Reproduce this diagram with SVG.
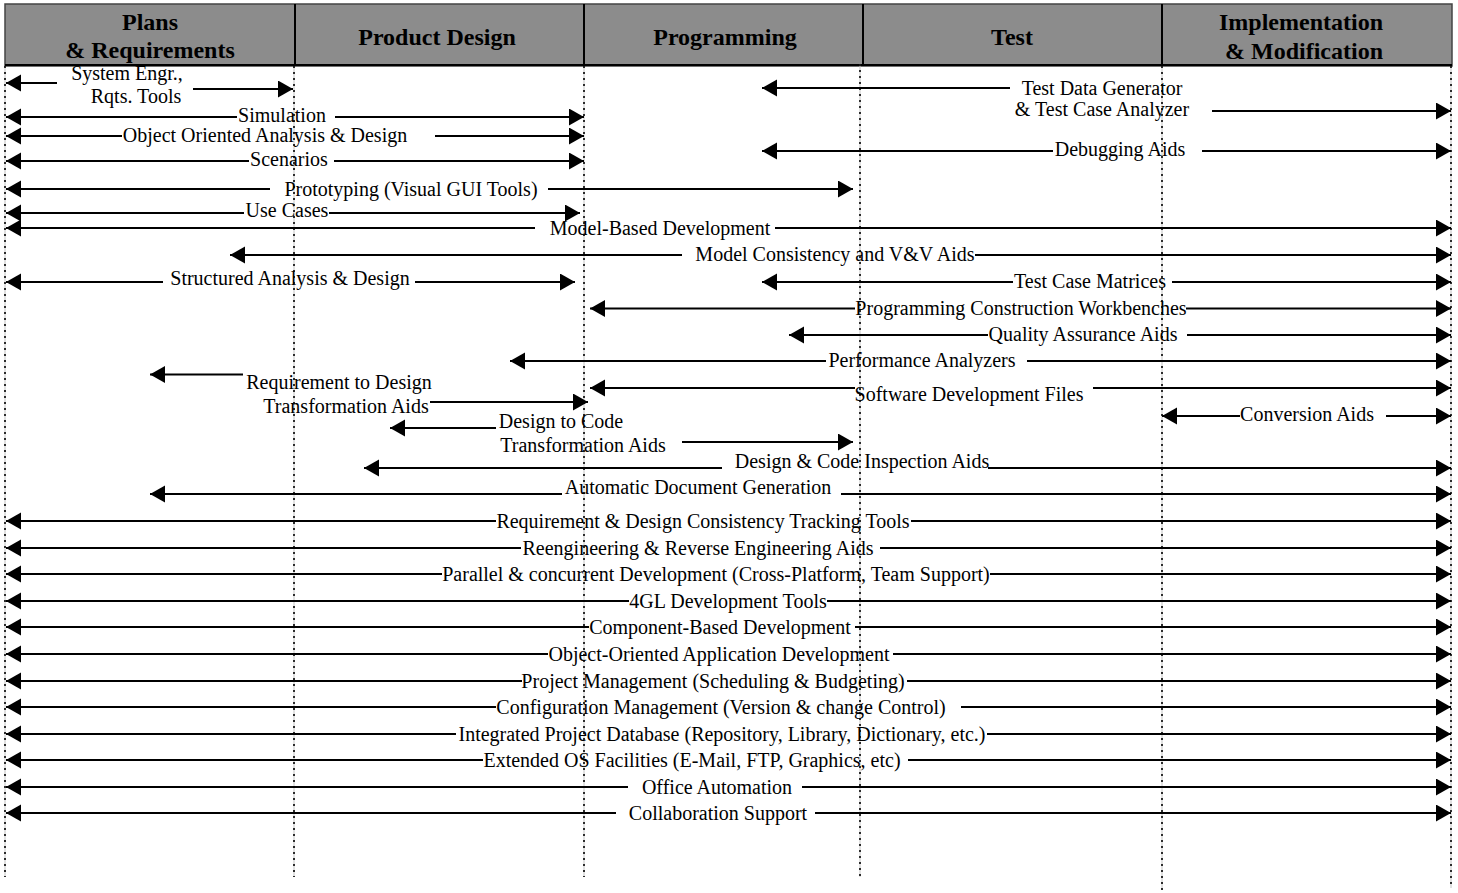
<svg xmlns="http://www.w3.org/2000/svg" width="1458" height="893" viewBox="0 0 1458 893">
<style>
.hdr{font-family:"Liberation Serif","Times New Roman",serif;font-weight:bold;font-size:24px;fill:#000;text-anchor:middle}
.lbl{font-family:"Liberation Serif","Times New Roman",serif;font-size:20px;fill:#000;text-anchor:middle}
.grid{stroke:#c4c4c4;stroke-width:1;fill:none}
.dots{stroke:#000;stroke-width:1.6;stroke-dasharray:2 4;fill:none}
.div{stroke:#000;stroke-width:2}
.l{stroke:#000;stroke-width:2;fill:none;marker-start:url(#ah)}
.r{stroke:#000;stroke-width:2;fill:none;marker-end:url(#ah)}
</style>
<defs>
<marker id="ah" markerUnits="userSpaceOnUse" markerWidth="16" markerHeight="18" refX="15" refY="8.5" orient="auto-start-reverse">
<path d="M0,0 L15,8.5 L0,17 Z" fill="#000"/>
</marker>
</defs>
<rect width="1458" height="893" fill="#fff"/>
<g id="header">
<rect x="5" y="4" width="1447" height="62" fill="#8c8c8c" stroke="#444" stroke-width="1.5"/>
<line class="div" x1="5" y1="65" x2="1452" y2="65"/>
<line class="div" x1="295" y1="4" x2="295" y2="66"/>
<line class="div" x1="584" y1="4" x2="584" y2="66"/>
<line class="div" x1="863" y1="4" x2="863" y2="66"/>
<line class="div" x1="1162" y1="4" x2="1162" y2="66"/>
<text class="hdr" x="150" y="30">Plans</text>
<text class="hdr" x="150" y="58">&amp; Requirements</text>
<text class="hdr" x="437" y="45">Product Design</text>
<text class="hdr" x="725" y="45">Programming</text>
<text class="hdr" x="1012" y="45">Test</text>
<text class="hdr" x="1301" y="30">Implementation</text>
<text class="hdr" x="1304" y="59">&amp; Modification</text>
</g>
<g id="gridlines">
<line class="grid" x1="5" y1="66" x2="5" y2="877"/>
<line class="dots" x1="5" y1="66" x2="5" y2="877"/>
<line class="grid" x1="294" y1="66" x2="294" y2="877"/>
<line class="dots" x1="294" y1="66" x2="294" y2="877"/>
<line class="grid" x1="584" y1="66" x2="584" y2="877"/>
<line class="dots" x1="584" y1="66" x2="584" y2="877"/>
<line class="grid" x1="860" y1="64" x2="860" y2="877"/>
<line class="dots" x1="860" y1="64" x2="860" y2="877"/>
<line class="grid" x1="1162" y1="66" x2="1162" y2="890"/>
<line class="dots" x1="1162" y1="66" x2="1162" y2="890"/>
<line class="grid" x1="1451" y1="66" x2="1451" y2="888"/>
<line class="dots" x1="1451" y1="66" x2="1451" y2="888"/>
</g>
<g id="connectors">
<line class="l" x1="6" y1="83" x2="57" y2="83"/><line class="r" x1="193" y1="89" x2="293" y2="89"/>
<line class="l" x1="762" y1="88" x2="1010" y2="88"/><line class="r" x1="1212" y1="111" x2="1451" y2="111"/>
<line class="l" x1="6" y1="117" x2="237" y2="117"/><line class="r" x1="335" y1="117" x2="584" y2="117"/>
<line class="l" x1="6" y1="136" x2="122" y2="136"/><line class="r" x1="435" y1="136" x2="584" y2="136"/>
<line class="l" x1="762" y1="151" x2="1053" y2="151"/><line class="r" x1="1202" y1="151" x2="1451" y2="151"/>
<line class="l" x1="6" y1="161" x2="249" y2="161"/><line class="r" x1="334" y1="161" x2="584" y2="161"/>
<line class="l" x1="6" y1="189" x2="270" y2="189"/><line class="r" x1="548" y1="189" x2="853" y2="189"/>
<line class="l" x1="6" y1="213" x2="244" y2="213"/><line class="r" x1="329" y1="213" x2="580" y2="213"/>
<line class="l" x1="6" y1="228" x2="535" y2="228"/><line class="r" x1="775" y1="228" x2="1451" y2="228"/>
<line class="l" x1="230" y1="255" x2="682" y2="255"/><line class="r" x1="975" y1="255" x2="1451" y2="255"/>
<line class="l" x1="6" y1="282" x2="163" y2="282"/><line class="r" x1="415" y1="282" x2="575" y2="282"/>
<line class="l" x1="762" y1="282" x2="1013" y2="282"/><line class="r" x1="1172" y1="282" x2="1451" y2="282"/>
<line class="l" x1="590" y1="308.5" x2="855" y2="308.5"/><line class="r" x1="1186" y1="308.5" x2="1451" y2="308.5"/>
<line class="l" x1="789" y1="335" x2="988" y2="335"/><line class="r" x1="1187" y1="335" x2="1451" y2="335"/>
<line class="l" x1="510" y1="361" x2="826" y2="361"/><line class="r" x1="1027" y1="361" x2="1451" y2="361"/>
<line class="l" x1="150" y1="374.5" x2="243" y2="374.5"/><line class="r" x1="430" y1="402" x2="588" y2="402"/>
<line class="l" x1="590" y1="388" x2="855" y2="388"/><line class="r" x1="1093" y1="388" x2="1451" y2="388"/>
<line class="l" x1="1162" y1="416" x2="1240" y2="416"/><line class="r" x1="1386" y1="416" x2="1451" y2="416"/>
<line class="l" x1="390" y1="428" x2="496" y2="428"/><line class="r" x1="682" y1="442" x2="853" y2="442"/>
<line class="l" x1="364" y1="468" x2="722" y2="468"/><line class="r" x1="988" y1="468" x2="1451" y2="468"/>
<line class="l" x1="150" y1="494" x2="562" y2="494"/><line class="r" x1="841" y1="494" x2="1451" y2="494"/>
<line class="l" x1="6" y1="521" x2="496" y2="521"/><line class="r" x1="911" y1="521" x2="1451" y2="521"/>
<line class="l" x1="6" y1="548" x2="521" y2="548"/><line class="r" x1="880" y1="548" x2="1451" y2="548"/>
<line class="l" x1="6" y1="574" x2="442" y2="574"/><line class="r" x1="990" y1="574" x2="1451" y2="574"/>
<line class="l" x1="6" y1="601" x2="629" y2="601"/><line class="r" x1="827" y1="601" x2="1451" y2="601"/>
<line class="l" x1="6" y1="627" x2="589" y2="627"/><line class="r" x1="855" y1="627" x2="1451" y2="627"/>
<line class="l" x1="6" y1="654" x2="548" y2="654"/><line class="r" x1="893" y1="654" x2="1451" y2="654"/>
<line class="l" x1="6" y1="681" x2="522" y2="681"/><line class="r" x1="907" y1="681" x2="1451" y2="681"/>
<line class="l" x1="6" y1="707" x2="496" y2="707"/><line class="r" x1="961" y1="707" x2="1451" y2="707"/>
<line class="l" x1="6" y1="734" x2="456" y2="734"/><line class="r" x1="987" y1="734" x2="1451" y2="734"/>
<line class="l" x1="6" y1="760" x2="483" y2="760"/><line class="r" x1="908" y1="760" x2="1451" y2="760"/>
<line class="l" x1="6" y1="787" x2="628" y2="787"/><line class="r" x1="802" y1="787" x2="1451" y2="787"/>
<line class="l" x1="6" y1="813" x2="616" y2="813"/><line class="r" x1="815" y1="813" x2="1451" y2="813"/>
</g>
<g id="n-sysengr"><text class="lbl" x="127" y="80">System Engr.,</text><text class="lbl" x="136" y="103">Rqts. Tools</text></g>
<g id="n-testdata"><text class="lbl" x="1102" y="95">Test Data Generator</text><text class="lbl" x="1102" y="116">&amp; Test Case Analyzer</text></g>
<g id="n-simulation"><text class="lbl" x="282" y="122">Simulation</text></g>
<g id="n-ooad"><text class="lbl" x="265" y="142">Object Oriented Analysis &amp; Design</text></g>
<g id="n-debugging"><text class="lbl" x="1120" y="156">Debugging Aids</text></g>
<g id="n-scenarios"><text class="lbl" x="289" y="166">Scenarios</text></g>
<g id="n-prototyping"><text class="lbl" x="411" y="196">Prototyping (Visual GUI Tools)</text></g>
<g id="n-usecases"><text class="lbl" x="287" y="217">Use Cases</text></g>
<g id="n-modelbased"><text class="lbl" x="660" y="235">Model-Based Development</text></g>
<g id="n-modelconsistency"><text class="lbl" x="835" y="261">Model Consistency and V&amp;V Aids</text></g>
<g id="n-structured"><text class="lbl" x="290" y="285">Structured Analysis &amp; Design</text></g>
<g id="n-testcase"><text class="lbl" x="1090" y="288">Test Case Matrices</text></g>
<g id="n-pcw"><text class="lbl" x="1021" y="315">Programming Construction Workbenches</text></g>
<g id="n-qa"><text class="lbl" x="1083" y="341">Quality Assurance Aids</text></g>
<g id="n-perf"><text class="lbl" x="922" y="367">Performance Analyzers</text></g>
<g id="n-req2design"><text class="lbl" x="339" y="389">Requirement to Design</text><text class="lbl" x="346" y="413">Transformation Aids</text></g>
<g id="n-sdf"><text class="lbl" x="969" y="401">Software Development Files</text></g>
<g id="n-conversion"><text class="lbl" x="1307" y="421">Conversion Aids</text></g>
<g id="n-design2code"><text class="lbl" x="561" y="428">Design to Code</text><text class="lbl" x="583" y="452">Transformation Aids</text></g>
<g id="n-inspection"><text class="lbl" x="862" y="468">Design &amp; Code Inspection Aids</text></g>
<g id="n-autodoc"><text class="lbl" x="698" y="494">Automatic Document Generation</text></g>
<g id="n-reqconsistency"><text class="lbl" x="703" y="528">Requirement &amp; Design Consistency Tracking Tools</text></g>
<g id="n-reengineering"><text class="lbl" x="698" y="555">Reengineering &amp; Reverse Engineering Aids</text></g>
<g id="n-parallel"><text class="lbl" x="716" y="581">Parallel &amp; concurrent Development (Cross-Platform, Team Support)</text></g>
<g id="n-4gl"><text class="lbl" x="728" y="608">4GL Development Tools</text></g>
<g id="n-component"><text class="lbl" x="720" y="634">Component-Based Development</text></g>
<g id="n-ooappdev"><text class="lbl" x="719" y="661">Object-Oriented Application Development</text></g>
<g id="n-projmgmt"><text class="lbl" x="713" y="688">Project Management (Scheduling &amp; Budgeting)</text></g>
<g id="n-configmgmt"><text class="lbl" x="721" y="714">Configuration Management (Version &amp; change Control)</text></g>
<g id="n-ipd"><text class="lbl" x="722" y="741">Integrated Project Database (Repository, Library, Dictionary, etc.)</text></g>
<g id="n-extos"><text class="lbl" x="692" y="767">Extended OS Facilities (E-Mail, FTP, Graphics, etc)</text></g>
<g id="n-office"><text class="lbl" x="717" y="794">Office Automation</text></g>
<g id="n-collab"><text class="lbl" x="718" y="820">Collaboration Support</text></g>
</svg>
